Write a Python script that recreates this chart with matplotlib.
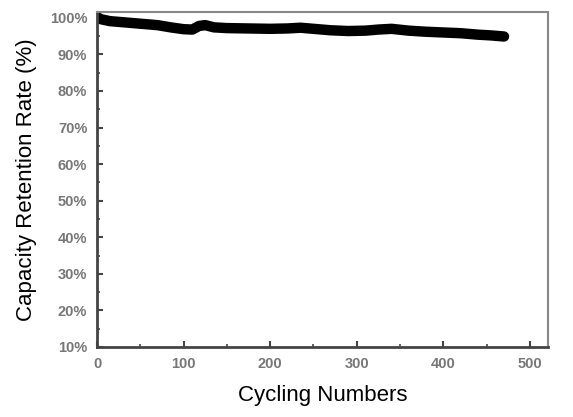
import matplotlib
matplotlib.use("Agg")
import matplotlib.pyplot as plt
from matplotlib.ticker import MultipleLocator, FuncFormatter

# cycle number vs capacity retention (%)
cycles = [0, 5, 15, 30, 50, 70, 85, 100, 110, 118, 125, 135, 150, 175, 200,
          220, 235, 250, 270, 290, 310, 325, 340, 360, 380, 400, 420, 440, 455, 470]
retention = [100.2, 99.6, 99.1, 98.8, 98.4, 98.0, 97.4, 96.9, 96.8, 97.8, 98.0, 97.4,
             97.2, 97.1, 97.0, 97.1, 97.3, 97.0, 96.6, 96.4, 96.5, 96.8, 97.0, 96.5,
             96.2, 96.0, 95.8, 95.4, 95.2, 94.9]

plt.rcParams['font.family'] = ['Liberation Sans', 'DejaVu Sans']

fig = plt.figure(figsize=(5.73, 4.17), dpi=100)
ax = fig.add_axes([97 / 573, 70 / 417, 451 / 573, 335 / 417])

ax.plot(cycles, retention, color='black', linewidth=7.5,
        solid_capstyle='round', solid_joinstyle='round')

ax.set_xlim(0, 520.8)
ax.set_ylim(10, 101.6)

ax.xaxis.set_major_locator(MultipleLocator(100))
ax.xaxis.set_minor_locator(MultipleLocator(50))
ax.yaxis.set_major_locator(MultipleLocator(10))
ax.yaxis.set_minor_locator(MultipleLocator(5))
ax.yaxis.set_major_formatter(FuncFormatter(lambda v, p: '%d%%' % round(v)))

ax.tick_params(which='both', direction='in', color='#444444')
ax.tick_params(which='major', length=4, width=1.5, labelsize=10.5,
               labelcolor='#777777', pad=7)
ax.tick_params(which='minor', length=2, width=1.2)
for lab in ax.get_xticklabels() + ax.get_yticklabels():
    lab.set_fontweight('bold')

for side in ['left', 'bottom']:
    ax.spines[side].set_color('#444444')
    ax.spines[side].set_linewidth(2)
for side in ['top', 'right']:
    ax.spines[side].set_color('#888888')
    ax.spines[side].set_linewidth(1.5)

ax.set_xlabel('Cycling Numbers', fontsize=16, labelpad=10)
ax.set_ylabel('Capacity Retention Rate (%)', fontsize=16, labelpad=9)

fig.savefig('out.png', dpi=100)
